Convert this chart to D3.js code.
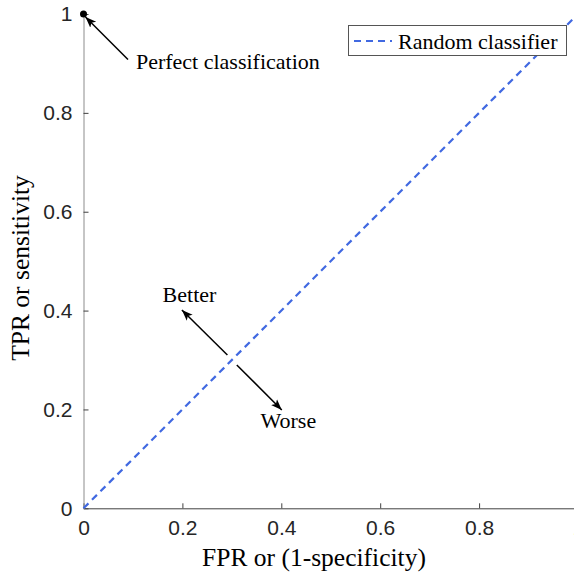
<!DOCTYPE html>
<html>
<head>
<meta charset="utf-8">
<script src="https://cdn.jsdelivr.net/npm/d3@7"></script>
<style>
  body { margin: 0; background: #fff; }
  svg { display: block; }
</style>
</head>
<body>
<div id="chart"></div>
<script>
// data ---------------------------------------------------------------
const tickValues = [0, 0.2, 0.4, 0.6, 0.8, 1];
const randomFPR = [0, 1];
const randomTPR = [0, 1];
const perfectPoint = [0, 1];
// arrows: [x1, y1] -> [x2, y2] in data units
const arrowLabels = ["Perfect classification", "Better", "Worse"];
const arrowFrom = [[0.09, 0.908], [0.291, 0.31], [0.31, 0.29]];
const arrowTo = [[0.004, 0.994], [0.199, 0.401], [0.401, 0.199]];
const labelAt = [[0.106, 0.889], [0.16, 0.418], [0.358, 0.162]];

// set up -------------------------------------------------------------
const svgWidth = 574;
const svgHeight = 575;

const svg = d3.select("#chart")
  .append("svg")
  .attr("width", svgWidth)
  .attr("height", svgHeight);

const x = d3.scaleLinear().domain([0, 1]).range([83.5, 578]);
const y = d3.scaleLinear().domain([0, 1]).range([508.3, 14]);

const tickFont = "'Liberation Sans', Arial, sans-serif";
const serif = "'Liberation Serif', 'Times New Roman', serif";

// arrow marker
svg.append("defs").append("marker")
  .attr("id", "head")
  .attr("viewBox", "0 0 10 10")
  .attr("refX", 10)
  .attr("refY", 5)
  .attr("markerWidth", 11)
  .attr("markerHeight", 11)
  .attr("markerUnits", "userSpaceOnUse")
  .attr("orient", "auto")
  .append("path")
  .attr("d", "M0,1.2 L10,5 L0,8.8 L2.5,5 Z")
  .attr("fill", "#000");

// axes ---------------------------------------------------------------
const fmt = d => d === 0 || d === 1 ? d3.format("d")(d) : d3.format(".1f")(d);

const xAxis = svg.append("g")
  .attr("transform", `translate(0,${y(0)})`)
  .call(d3.axisBottom(x).tickValues(tickValues).tickSizeInner(-5).tickSizeOuter(0).tickPadding(12).tickFormat(fmt));
xAxis.select(".domain").attr("stroke", "#404040");
xAxis.selectAll(".tick line").attr("stroke", "#404040");
xAxis.selectAll("text")
  .attr("font-family", tickFont)
  .attr("font-size", "21px")
  .attr("fill", "#262626");

const yAxis = svg.append("g")
  .attr("transform", `translate(${x(0)},0)`)
  .call(d3.axisLeft(y).tickValues(tickValues).tickSizeInner(-5).tickSizeOuter(0).tickPadding(11).tickFormat(fmt));
yAxis.select(".domain").attr("stroke", "#8c8c8c");
yAxis.selectAll(".tick line").attr("stroke", "#404040");
yAxis.selectAll("text")
  .attr("font-family", tickFont)
  .attr("font-size", "21px")
  .attr("fill", "#262626");

// axis labels
svg.append("text")
  .attr("x", 314)
  .attr("y", 566)
  .attr("text-anchor", "middle")
  .attr("font-family", serif)
  .attr("font-size", "25.5px")
  .text("FPR or (1-specificity)");

svg.append("text")
  .attr("transform", `translate(29,268) rotate(-90)`)
  .attr("text-anchor", "middle")
  .attr("font-family", serif)
  .attr("font-size", "25.5px")
  .text("TPR or sensitivity");

// random classifier line ---------------------------------------------
const line = d3.line().x(d => x(d[0])).y(d => y(d[1]));
svg.append("path")
  .datum(randomFPR.map((v, i) => [v, randomTPR[i]]))
  .attr("d", line)
  .attr("fill", "none")
  .attr("stroke", "#4169e1")
  .attr("stroke-width", 2.2)
  .attr("stroke-dasharray", "7,5");

// perfect point
svg.append("circle")
  .attr("cx", x(perfectPoint[0]))
  .attr("cy", y(perfectPoint[1]))
  .attr("r", 3.5)
  .attr("fill", "#000");

// annotations --------------------------------------------------------
arrowLabels.forEach((lab, i) => {
  svg.append("line")
    .attr("x1", x(arrowFrom[i][0]))
    .attr("y1", y(arrowFrom[i][1]))
    .attr("x2", x(arrowTo[i][0]))
    .attr("y2", y(arrowTo[i][1]))
    .attr("stroke", "#000")
    .attr("stroke-width", 1.5)
    .attr("marker-end", "url(#head)");
  svg.append("text")
    .attr("x", x(labelAt[i][0]))
    .attr("y", y(labelAt[i][1]))
    .attr("font-family", serif)
    .attr("font-size", "22px")
    .text(lab);
});

// legend -------------------------------------------------------------
const legend = svg.append("g");
legend.append("rect")
  .attr("x", 348.5)
  .attr("y", 25.5)
  .attr("width", 218)
  .attr("height", 30)
  .attr("fill", "#fff")
  .attr("stroke", "#555")
  .attr("stroke-width", 1);
legend.append("line")
  .attr("x1", 354).attr("x2", 392)
  .attr("y1", 41).attr("y2", 41)
  .attr("stroke", "#4169e1")
  .attr("stroke-width", 2.2)
  .attr("stroke-dasharray", "7,5");
legend.append("text")
  .attr("x", 398)
  .attr("y", 48.5)
  .attr("font-family", serif)
  .attr("font-size", "22px")
  .text("Random classifier");
</script>
</body>
</html>
